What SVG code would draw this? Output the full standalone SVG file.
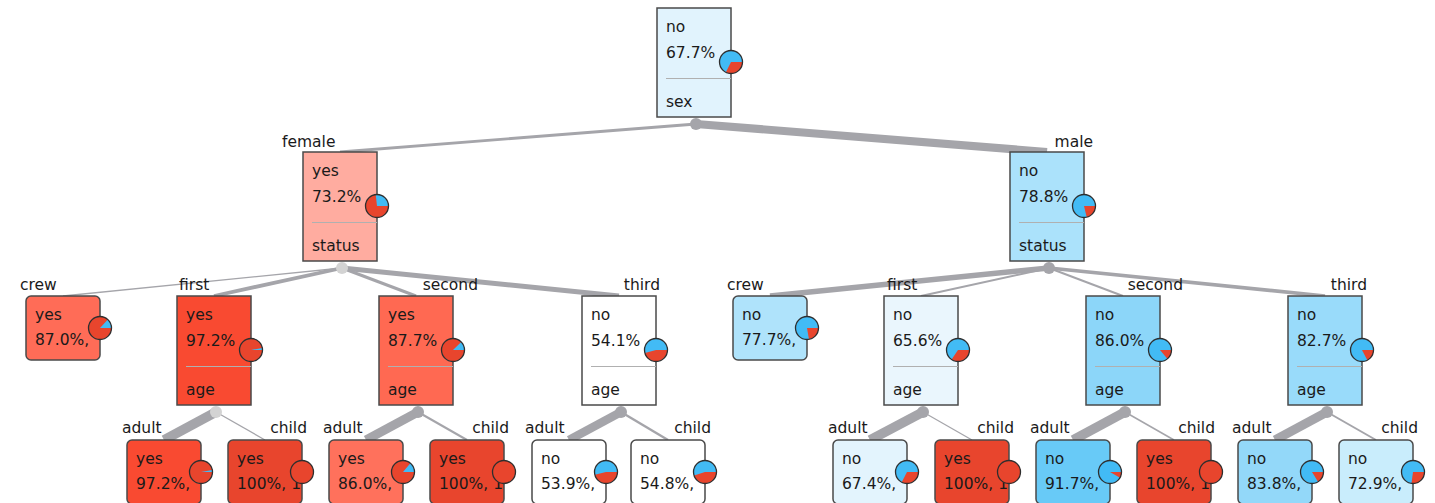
<svg xmlns="http://www.w3.org/2000/svg" width="1435" height="503" viewBox="0 0 1435 503">
<style>
text{font-family:"DejaVu Sans","Liberation Sans",sans-serif;font-size:15.5px;fill:#1a1a1a}
.box{stroke:#4a4a4a;stroke-width:1.5}
.sep{stroke:#b0b0b0;stroke-width:1.2}
.pb{fill:#42bbf5}
.pr{fill:#e8452d}
.po{fill:none;stroke:#2e2e2e;stroke-width:1.3}
.e{stroke:#a5a5aa;fill:none}
.dot{fill:#a5a5aa}
.dotl{fill:#d3d3d3}
</style>
<rect width="1435" height="503" fill="#ffffff"/>
<g id="connectors">
<line class="e" x1="696" y1="124" x2="340" y2="152" stroke-width="2.9"/>
<line class="e" x1="696" y1="124" x2="1047" y2="152" stroke-width="8.1"/>
<line class="e" x1="342" y1="268" x2="63" y2="296" stroke-width="1.4"/>
<line class="e" x1="342" y1="268" x2="214" y2="296" stroke-width="3.8"/>
<line class="e" x1="342" y1="268" x2="416" y2="296" stroke-width="3.0"/>
<line class="e" x1="342" y1="268" x2="619" y2="296" stroke-width="4.8"/>
<line class="e" x1="1049" y1="268" x2="770" y2="296" stroke-width="5.5"/>
<line class="e" x1="1049" y1="268" x2="921" y2="296" stroke-width="1.9"/>
<line class="e" x1="1049" y1="268" x2="1123" y2="296" stroke-width="1.9"/>
<line class="e" x1="1049" y1="268" x2="1325" y2="296" stroke-width="3.6"/>
<line class="e" x1="216" y1="412" x2="164" y2="440" stroke-width="9.7"/>
<line class="e" x1="216" y1="412" x2="265" y2="440" stroke-width="1.3"/>
<line class="e" x1="418" y1="412" x2="366" y2="440" stroke-width="8.9"/>
<line class="e" x1="418" y1="412" x2="467" y2="440" stroke-width="2.1"/>
<line class="e" x1="621" y1="412" x2="569" y2="440" stroke-width="8.6"/>
<line class="e" x1="621" y1="412" x2="668" y2="440" stroke-width="2.4"/>
<line class="e" x1="923" y1="412" x2="870" y2="440" stroke-width="9.7"/>
<line class="e" x1="923" y1="412" x2="972" y2="440" stroke-width="1.3"/>
<line class="e" x1="1125" y1="412" x2="1073" y2="440" stroke-width="9.4"/>
<line class="e" x1="1125" y1="412" x2="1174" y2="440" stroke-width="1.6"/>
<line class="e" x1="1327" y1="412" x2="1275" y2="440" stroke-width="9.2"/>
<line class="e" x1="1327" y1="412" x2="1376" y2="440" stroke-width="1.9"/>
<circle class="dot" cx="696" cy="124" r="6"/>
<circle class="dotl" cx="342" cy="268" r="6"/>
<circle class="dot" cx="1049" cy="268" r="6"/>
<circle class="dotl" cx="216" cy="412" r="6"/>
<circle class="dot" cx="418" cy="412" r="6"/>
<circle class="dot" cx="621" cy="412" r="6"/>
<circle class="dot" cx="923" cy="412" r="6"/>
<circle class="dot" cx="1125" cy="412" r="6"/>
<circle class="dot" cx="1327" cy="412" r="6"/>
</g>
<g id="edge-labels">
<text x="282" y="147">female</text>
<text x="1093" y="147" text-anchor="end">male</text>
<text x="20" y="290">crew</text>
<text x="179" y="290">first</text>
<text x="478" y="290" text-anchor="end">second</text>
<text x="660" y="290" text-anchor="end">third</text>
<text x="727" y="290">crew</text>
<text x="887" y="290">first</text>
<text x="1183" y="290" text-anchor="end">second</text>
<text x="1367" y="290" text-anchor="end">third</text>
<text x="122" y="433">adult</text>
<text x="307" y="433" text-anchor="end">child</text>
<text x="323" y="433">adult</text>
<text x="509" y="433" text-anchor="end">child</text>
<text x="525" y="433">adult</text>
<text x="711" y="433" text-anchor="end">child</text>
<text x="828" y="433">adult</text>
<text x="1014" y="433" text-anchor="end">child</text>
<text x="1030" y="433">adult</text>
<text x="1215" y="433" text-anchor="end">child</text>
<text x="1232" y="433">adult</text>
<text x="1418" y="433" text-anchor="end">child</text>
</g>
<g id="n-root">
<rect class="box" x="657" y="8" width="74" height="109" fill="#e1f3fd"/>
<text x="666" y="32">no</text><text x="666" y="58">67.7%</text>
<line class="sep" x1="666" y1="78.5" x2="731" y2="78.5"/>
<text x="666" y="107">sex</text>
<circle class="pb" cx="731" cy="62" r="11.5"/>
<path class="pr" d="M731,62 L742.5,62 A11.5,11.5 0 0 1 725.91,72.31 Z"/>
<circle class="po" cx="731" cy="62" r="11.5"/>
</g>
<g id="n-female">
<rect class="box" x="303" y="152" width="74" height="109" fill="#ffaca0"/>
<text x="312" y="176">yes</text><text x="312" y="202">73.2%</text>
<line class="sep" x1="312" y1="222.5" x2="377" y2="222.5"/>
<text x="312" y="251">status</text>
<circle class="pb" cx="377" cy="206" r="11.5"/>
<path class="pr" d="M377,206 L388.5,206 A11.5,11.5 0 1 1 375.70,194.57 Z"/>
<circle class="po" cx="377" cy="206" r="11.5"/>
</g>
<g id="n-male">
<rect class="box" x="1010" y="152" width="74" height="109" fill="#abe2fb"/>
<text x="1019" y="176">no</text><text x="1019" y="202">78.8%</text>
<line class="sep" x1="1019" y1="222.5" x2="1084" y2="222.5"/>
<text x="1019" y="251">status</text>
<circle class="pb" cx="1084" cy="206" r="11.5"/>
<path class="pr" d="M1084,206 L1095.5,206 A11.5,11.5 0 0 1 1086.72,217.17 Z"/>
<circle class="po" cx="1084" cy="206" r="11.5"/>
</g>
<g id="n-f-crew">
<rect class="box" x="26" y="296" width="74" height="64" rx="5" fill="#ff6c57"/>
<text x="35" y="320">yes</text><text x="35" y="345">87.0%,</text>
<circle class="pb" cx="100" cy="328" r="11.5"/>
<path class="pr" d="M100,328 L111.5,328 A11.5,11.5 0 1 1 107.87,319.62 Z"/>
<circle class="po" cx="100" cy="328" r="11.5"/>
</g>
<g id="n-f-first">
<rect class="box" x="177" y="296" width="74" height="109" fill="#f94a31"/>
<text x="186" y="320">yes</text><text x="186" y="346">97.2%</text>
<line class="sep" x1="186" y1="366.5" x2="251" y2="366.5"/>
<text x="186" y="395">age</text>
<circle class="pb" cx="251" cy="350" r="11.5"/>
<path class="pr" d="M251,350 L262.5,350 A11.5,11.5 0 1 1 262.32,347.98 Z"/>
<circle class="po" cx="251" cy="350" r="11.5"/>
</g>
<g id="n-f-second">
<rect class="box" x="379" y="296" width="74" height="109" fill="#ff6952"/>
<text x="388" y="320">yes</text><text x="388" y="346">87.7%</text>
<line class="sep" x1="388" y1="366.5" x2="453" y2="366.5"/>
<text x="388" y="395">age</text>
<circle class="pb" cx="453" cy="350" r="11.5"/>
<path class="pr" d="M453,350 L464.5,350 A11.5,11.5 0 1 1 461.23,341.97 Z"/>
<circle class="po" cx="453" cy="350" r="11.5"/>
</g>
<g id="n-f-third">
<rect class="box" x="582" y="296" width="74" height="109" fill="#ffffff"/>
<text x="591" y="320">no</text><text x="591" y="346">54.1%</text>
<line class="sep" x1="591" y1="366.5" x2="656" y2="366.5"/>
<text x="591" y="395">age</text>
<circle class="pb" cx="656" cy="350" r="11.5"/>
<path class="pr" d="M656,350 L667.5,350 A11.5,11.5 0 0 1 644.88,352.94 Z"/>
<circle class="po" cx="656" cy="350" r="11.5"/>
</g>
<g id="n-m-crew">
<rect class="box" x="733" y="296" width="74" height="64" rx="5" fill="#afe3fb"/>
<text x="742" y="320">no</text><text x="742" y="345">77.7%,</text>
<circle class="pb" cx="807" cy="328" r="11.5"/>
<path class="pr" d="M807,328 L818.5,328 A11.5,11.5 0 0 1 808.94,339.34 Z"/>
<circle class="po" cx="807" cy="328" r="11.5"/>
</g>
<g id="n-m-first">
<rect class="box" x="884" y="296" width="74" height="109" fill="#eaf6fd"/>
<text x="893" y="320">no</text><text x="893" y="346">65.6%</text>
<line class="sep" x1="893" y1="366.5" x2="958" y2="366.5"/>
<text x="893" y="395">age</text>
<circle class="pb" cx="958" cy="350" r="11.5"/>
<path class="pr" d="M958,350 L969.5,350 A11.5,11.5 0 0 1 951.60,359.56 Z"/>
<circle class="po" cx="958" cy="350" r="11.5"/>
</g>
<g id="n-m-second">
<rect class="box" x="1086" y="296" width="74" height="109" fill="#8cd6f9"/>
<text x="1095" y="320">no</text><text x="1095" y="346">86.0%</text>
<line class="sep" x1="1095" y1="366.5" x2="1160" y2="366.5"/>
<text x="1095" y="395">age</text>
<circle class="pb" cx="1160" cy="350" r="11.5"/>
<path class="pr" d="M1160,350 L1171.5,350 A11.5,11.5 0 0 1 1167.33,358.86 Z"/>
<circle class="po" cx="1160" cy="350" r="11.5"/>
</g>
<g id="n-m-third">
<rect class="box" x="1288" y="296" width="74" height="109" fill="#99dbfa"/>
<text x="1297" y="320">no</text><text x="1297" y="346">82.7%</text>
<line class="sep" x1="1297" y1="366.5" x2="1362" y2="366.5"/>
<text x="1297" y="395">age</text>
<circle class="pb" cx="1362" cy="350" r="11.5"/>
<path class="pr" d="M1362,350 L1373.5,350 A11.5,11.5 0 0 1 1367.35,360.18 Z"/>
<circle class="po" cx="1362" cy="350" r="11.5"/>
</g>
<g id="n-f1-adult">
<rect class="box" x="127" y="440" width="74" height="64" rx="5" fill="#f94a31"/>
<text x="136" y="464">yes</text><text x="136" y="489">97.2%,</text>
<circle class="pb" cx="201" cy="472" r="11.5"/>
<path class="pr" d="M201,472 L212.5,472 A11.5,11.5 0 1 1 212.32,469.98 Z"/>
<circle class="po" cx="201" cy="472" r="11.5"/>
</g>
<g id="n-f1-child">
<rect class="box" x="228" y="440" width="74" height="64" rx="5" fill="#e8452d"/>
<text x="237" y="464">yes</text><text x="237" y="489">100%, 1</text>
<circle class="pr" cx="302" cy="472" r="11.5"/>
<circle class="po" cx="302" cy="472" r="11.5"/>
</g>
<g id="n-f2-adult">
<rect class="box" x="329" y="440" width="74" height="64" rx="5" fill="#ff715c"/>
<text x="338" y="464">yes</text><text x="338" y="489">86.0%,</text>
<circle class="pb" cx="403" cy="472" r="11.5"/>
<path class="pr" d="M403,472 L414.5,472 A11.5,11.5 0 1 1 410.33,463.14 Z"/>
<circle class="po" cx="403" cy="472" r="11.5"/>
</g>
<g id="n-f2-child">
<rect class="box" x="430" y="440" width="74" height="64" rx="5" fill="#e8452d"/>
<text x="439" y="464">yes</text><text x="439" y="489">100%, 1</text>
<circle class="pr" cx="504" cy="472" r="11.5"/>
<circle class="po" cx="504" cy="472" r="11.5"/>
</g>
<g id="n-f3-adult">
<rect class="box" x="532" y="440" width="74" height="64" rx="5" fill="#ffffff"/>
<text x="541" y="464">no</text><text x="541" y="489">53.9%,</text>
<circle class="pb" cx="606" cy="472" r="11.5"/>
<path class="pr" d="M606,472 L617.5,472 A11.5,11.5 0 0 1 594.84,474.78 Z"/>
<circle class="po" cx="606" cy="472" r="11.5"/>
</g>
<g id="n-f3-child">
<rect class="box" x="631" y="440" width="74" height="64" rx="5" fill="#ffffff"/>
<text x="640" y="464">no</text><text x="640" y="489">54.8%,</text>
<circle class="pb" cx="705" cy="472" r="11.5"/>
<path class="pr" d="M705,472 L716.5,472 A11.5,11.5 0 0 1 694.02,475.42 Z"/>
<circle class="po" cx="705" cy="472" r="11.5"/>
</g>
<g id="n-m1-adult">
<rect class="box" x="833" y="440" width="74" height="64" rx="5" fill="#e3f4fd"/>
<text x="842" y="464">no</text><text x="842" y="489">67.4%,</text>
<circle class="pb" cx="907" cy="472" r="11.5"/>
<path class="pr" d="M907,472 L918.5,472 A11.5,11.5 0 0 1 901.71,482.21 Z"/>
<circle class="po" cx="907" cy="472" r="11.5"/>
</g>
<g id="n-m1-child">
<rect class="box" x="935" y="440" width="74" height="64" rx="5" fill="#e8452d"/>
<text x="944" y="464">yes</text><text x="944" y="489">100%, 1</text>
<circle class="pr" cx="1009" cy="472" r="11.5"/>
<circle class="po" cx="1009" cy="472" r="11.5"/>
</g>
<g id="n-m2-adult">
<rect class="box" x="1036" y="440" width="74" height="64" rx="5" fill="#68caf7"/>
<text x="1045" y="464">no</text><text x="1045" y="489">91.7%,</text>
<circle class="pb" cx="1110" cy="472" r="11.5"/>
<path class="pr" d="M1110,472 L1121.5,472 A11.5,11.5 0 0 1 1119.97,477.73 Z"/>
<circle class="po" cx="1110" cy="472" r="11.5"/>
</g>
<g id="n-m2-child">
<rect class="box" x="1137" y="440" width="74" height="64" rx="5" fill="#e8452d"/>
<text x="1146" y="464">yes</text><text x="1146" y="489">100%, 1</text>
<circle class="pr" cx="1211" cy="472" r="11.5"/>
<circle class="po" cx="1211" cy="472" r="11.5"/>
</g>
<g id="n-m3-adult">
<rect class="box" x="1238" y="440" width="74" height="64" rx="5" fill="#93d8f9"/>
<text x="1247" y="464">no</text><text x="1247" y="489">83.8%,</text>
<circle class="pb" cx="1312" cy="472" r="11.5"/>
<path class="pr" d="M1312,472 L1323.5,472 A11.5,11.5 0 0 1 1318.04,481.78 Z"/>
<circle class="po" cx="1312" cy="472" r="11.5"/>
</g>
<g id="n-m3-child">
<rect class="box" x="1339" y="440" width="74" height="64" rx="5" fill="#c9edfc"/>
<text x="1348" y="464">no</text><text x="1348" y="489">72.9%,</text>
<circle class="pb" cx="1413" cy="472" r="11.5"/>
<path class="pr" d="M1413,472 L1424.5,472 A11.5,11.5 0 0 1 1411.48,483.40 Z"/>
<circle class="po" cx="1413" cy="472" r="11.5"/>
</g>
</svg>
